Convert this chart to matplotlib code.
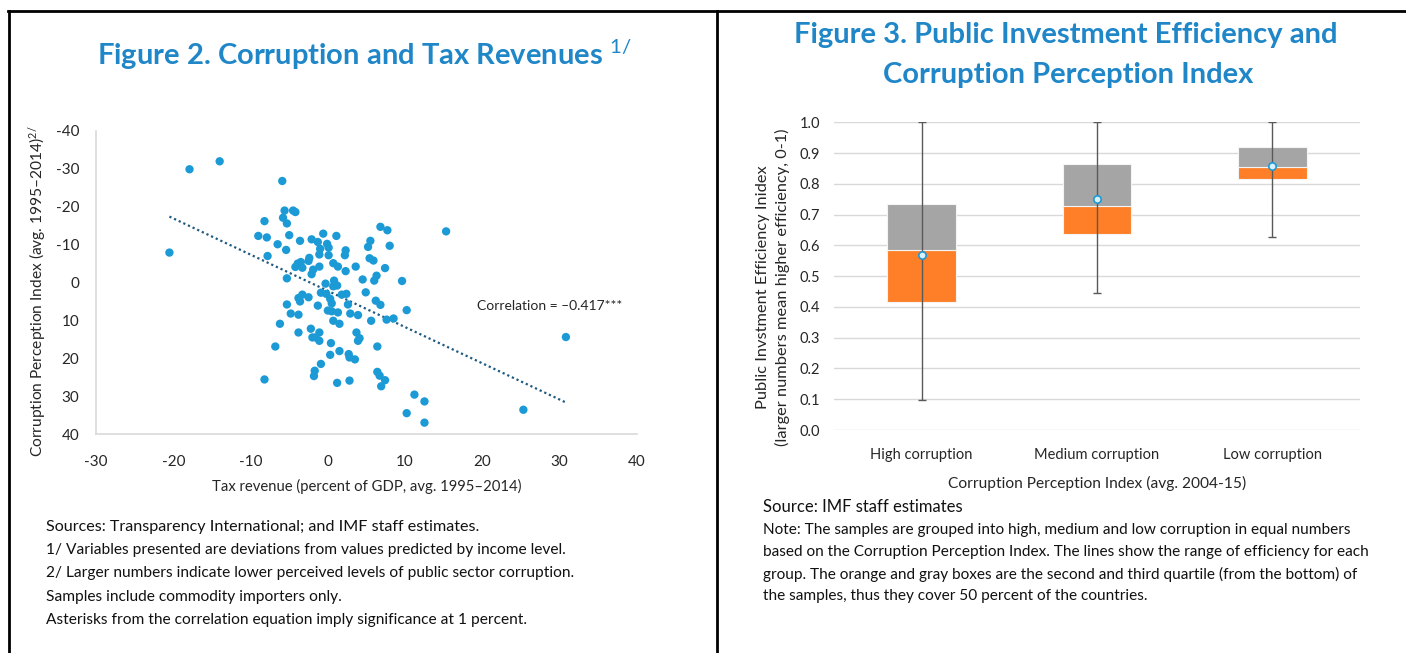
#!/usr/bin/env python3
"""Two-panel IMF chart: corruption vs tax revenue scatter, and investment efficiency boxes."""

import numpy as np
import matplotlib
matplotlib.use("Agg")
import matplotlib.pyplot as plt
from matplotlib.lines import Line2D

plt.rcParams["font.family"] = ["Lato", "DejaVu Sans"]
plt.rcParams["axes.unicode_minus"] = False
plt.rcParams["mathtext.fontset"] = "custom"
plt.rcParams["mathtext.rm"] = "Lato"
plt.rcParams["mathtext.it"] = "Lato"

# --- Figure 2 data: deviations from income-predicted values ---
tax_revenue = [
    -17.9, -14.0, -5.9, -20.5, -5.6, -4.5, -4.2, -5.8, -5.3, -8.2,
    -9.0, -7.9, -5.0, -6.5, -5.4, -7.8, -3.6, -2.1, -0.6, 1.1,
    -1.3, -0.1, 0.1, -1.0, -1.1, 0.1, -2.4, -2.5, -3.9, -3.5,
    -4.2, -3.3, -1.9, -2.1, -1.1, 0.7, 1.3, 2.3, 2.2, 2.3,
    3.6, -5.3, -0.3, 0.8, 1.2, 0.7, 4.5, 5.5, 5.2, 6.8,
    7.7, 8.0, 5.4, 5.9, 7.4, 6.3, 6.0, 9.6, 15.3, 4.9,
    6.2, 6.8, 10.2, 5.6, 7.6, 8.5, 6.4, 6.4, 6.7, 7.4,
    6.9, 11.2, 12.5, 10.2, 12.5, 25.3, 30.8, -3.3, -3.8, -3.6,
    -2.5, -0.9, -0.2, 0.3, 0.5, 1.8, 2.4, 2.6, -5.3, -4.8,
    -3.8, -1.3, 0.0, 0.5, 1.3, 2.9, 3.9, -6.2, 0.7, 1.5,
    -3.8, -2.2, -1.1, -2.0, -1.6, -1.1, 3.7, 4.1, 3.9, 0.4,
    -6.8, 1.5, 0.3, 2.7, 2.8, 3.5, -0.9, -1.7, -1.8, -8.2,
    1.2, 2.8,
]
cpi_dev = [
    -29.9, -32.0, -26.8, -7.9, -19.0, -19.0, -18.6, -17.1, -15.6, -16.2,
    -12.3, -11.9, -12.5, -10.1, -8.6, -7.0, -11.0, -11.4, -12.9, -12.3,
    -10.7, -10.2, -9.2, -8.9, -7.4, -7.2, -6.5, -5.7, -5.0, -5.4,
    -4.1, -3.9, -3.4, -2.2, -4.2, -5.1, -4.2, -8.5, -7.2, -3.0,
    -4.2, -1.1, 0.3, -0.5, 0.8, 1.0, -0.8, -11.0, -9.4, -14.7,
    -13.8, -9.7, -6.4, -5.8, -3.8, -1.8, -0.5, -0.4, -13.5, 2.6,
    4.8, 5.9, 7.3, 10.1, 9.8, 9.5, 16.9, 23.6, 24.6, 25.8,
    27.4, 29.6, 31.4, 34.5, 37.0, 33.6, 14.4, 3.2, 4.1, 5.0,
    3.9, 2.7, 3.0, 4.3, 5.5, 3.2, 3.0, 5.8, 5.8, 8.2,
    8.5, 6.1, 7.4, 7.6, 7.9, 8.2, 8.6, 10.9, 10.1, 10.9,
    13.2, 12.2, 13.2, 14.5, 14.5, 15.4, 13.2, 14.7, 15.4, 16.0,
    16.9, 18.1, 19.1, 18.9, 19.8, 20.3, 21.5, 23.3, 24.7, 25.6,
    26.5, 25.9,
]
correlation_label = "Correlation = \u20130.417***"

# --- Figure 3 data: efficiency distribution per corruption group ---
groups = ["High corruption", "Medium corruption", "Low corruption"]
eff_min = [0.096, 0.446, 0.628]
eff_q1 = [0.416, 0.636, 0.817]
eff_median = [0.585, 0.729, 0.856]
eff_q3 = [0.733, 0.863, 0.921]
eff_max = [1.0, 1.0, 1.0]
eff_mean = [0.569, 0.750, 0.859]

TITLE_BLUE = "#1f86c8"
DOT_BLUE = "#1b9ad6"
ORANGE = "#fe7f27"
GRAY = "#a5a5a5"
TEXT = "#262626"

left_notes = [
    "Sources: Transparency International; and IMF staff estimates.",
    "1/ Variables presented are deviations from values predicted by income level.",
    "2/ Larger numbers indicate lower perceived levels of public sector corruption.",
    "Samples include commodity importers only.",
    "Asterisks from the correlation equation imply significance at 1 percent.",
]
right_notes = [
    "Source: IMF staff estimates",
    "Note: The samples are grouped into high, medium and low corruption in equal numbers",
    "based on the Corruption Perception Index. The lines show the range of efficiency for each",
    "group. The orange and gray boxes are the second and third quartile (from the bottom) of",
    "the samples, thus they cover 50 percent of the countries.",
]


def px(x, y):
    """Pixel position in the 1406x653 canvas to figure fraction."""
    return x / 1406, 1 - y / 653


fig = plt.figure(figsize=(14.06, 6.53), dpi=100)

# panel borders
for xs, ys in [((8, 1406), (11, 11)), ((9, 9), (11, 653)), ((717, 717), (11, 653))]:
    (x0, y0), (x1, y1) = px(xs[0], ys[0]), px(xs[1], ys[1])
    fig.add_artist(Line2D([x0, x1], [y0, y1], color="black", lw=2))

# ---------------- Figure 2 ----------------
ax1 = fig.add_axes([96 / 1406, 1 - 434 / 653, (637 - 96) / 1406, (434 - 131) / 653])
ax1.scatter(tax_revenue, cpi_dev, s=36, color=DOT_BLUE, edgecolors="none", zorder=3)

coef = np.polyfit(tax_revenue, cpi_dev, 1)
xt = np.array([min(tax_revenue), max(tax_revenue)])
ax1.plot(xt, np.polyval(coef, xt), linestyle=(0, (1, 1.3)), color="#1f5a80", lw=1.6, zorder=2)

ax1.text(19.3, 6.3, correlation_label, fontsize=10, va="center", ha="left", color=TEXT)

ax1.set_xlim(-30, 40)
ax1.set_ylim(40, -40)
ax1.set_xticks(np.arange(-30, 41, 10))
ax1.set_yticks(np.arange(-40, 41, 10))
ax1.tick_params(length=0, labelsize=11, colors=TEXT, pad=12)
ax1.tick_params(axis="x", pad=15)
for side in ["top", "right"]:
    ax1.spines[side].set_visible(False)
for side in ["left", "bottom"]:
    ax1.spines[side].set_color("#d9d9d9")
    ax1.spines[side].set_linewidth(1.2)
ax1.set_xlabel("Tax revenue (percent of GDP, avg. 1995\u20132014)", fontsize=10.7, labelpad=7,
               color=TEXT)
ax1.set_ylabel("Corruption Perception Index (avg. 1995\u20132014)$^{2/}$", fontsize=11.2,
               labelpad=5, color=TEXT)
ax1.yaxis.label.set_y(0.47)

fig.text(*px(364, 55), "Figure 2. Corruption and Tax Revenues $^{1/}$", ha="center", va="center",
         fontsize=21, fontweight="bold", color=TITLE_BLUE)

for i, line in enumerate(left_notes):
    size = 11.6 if i == 0 else 11.2
    fig.text(*px(46, 527 + 23.2 * i), line, fontsize=size, va="center", ha="left", color="#111111")

# ---------------- Figure 3 ----------------
ax2 = fig.add_axes([834 / 1406, 1 - 430 / 653, (1360 - 834) / 1406, (430 - 122.3) / 653])
pos = np.arange(len(groups))
q1 = np.array(eff_q1)
med = np.array(eff_median)
q3 = np.array(eff_q3)
ax2.bar(pos, med - q1, bottom=q1, width=0.39, color=ORANGE, edgecolor="#f4f4f4", lw=0.8, zorder=2)
ax2.bar(pos, q3 - med, bottom=med, width=0.39, color=GRAY, edgecolor="#f4f4f4", lw=0.8, zorder=2)
mean = np.array(eff_mean)
ax2.errorbar(pos, mean, yerr=[mean - np.array(eff_min), np.array(eff_max) - mean], fmt="none",
             ecolor="#595959", elinewidth=1, capsize=3, capthick=1, zorder=3)
ax2.scatter(pos, mean, s=28, facecolor="#d9f1fc", edgecolor="#1b9ad6", lw=1.2, zorder=4)

ax2.set_xlim(-0.5, 2.5)
ax2.set_ylim(0, 1.0)
ax2.set_yticks(np.arange(0, 1.01, 0.1))
ax2.set_yticklabels([f"{v:.1f}" for v in np.arange(0, 1.01, 0.1)])
ax2.set_xticks(pos)
ax2.set_xticklabels(groups)
ax2.grid(True, axis="y", color="#d9d9d9", lw=1, zorder=0)
ax2.set_axisbelow(True)
for side in ax2.spines:
    ax2.spines[side].set_visible(False)
ax2.tick_params(length=0, labelsize=10.5, colors=TEXT)
ax2.tick_params(axis="y", pad=10)
ax2.tick_params(axis="x", pad=13)
ax2.set_xlabel("Corruption Perception Index (avg. 2004-15)", fontsize=11.2, labelpad=10,
               color=TEXT)
ax2.set_ylabel("Public Invstment Efficiency Inidex\n(larger numbers mean higher efficiency, 0-1)",
               fontsize=11.8, labelpad=7, color=TEXT, linespacing=1.35)
ax2.yaxis.label.set_y(0.465)

fig.text(*px(1066, 35), "Figure 3. Public Investment Efficiency and", ha="center", va="center",
         fontsize=21, fontweight="bold", color=TITLE_BLUE)
fig.text(*px(1068, 75), "Corruption Perception Index", ha="center", va="center",
         fontsize=21, fontweight="bold", color=TITLE_BLUE)

for i, line in enumerate(right_notes):
    size = 12 if i == 0 else 11.1
    y = 507 if i == 0 else 530 + 22 * (i - 1)
    fig.text(*px(763, y), line, fontsize=size, va="center", ha="left", color="#111111")

fig.savefig("out.png", dpi=100)
